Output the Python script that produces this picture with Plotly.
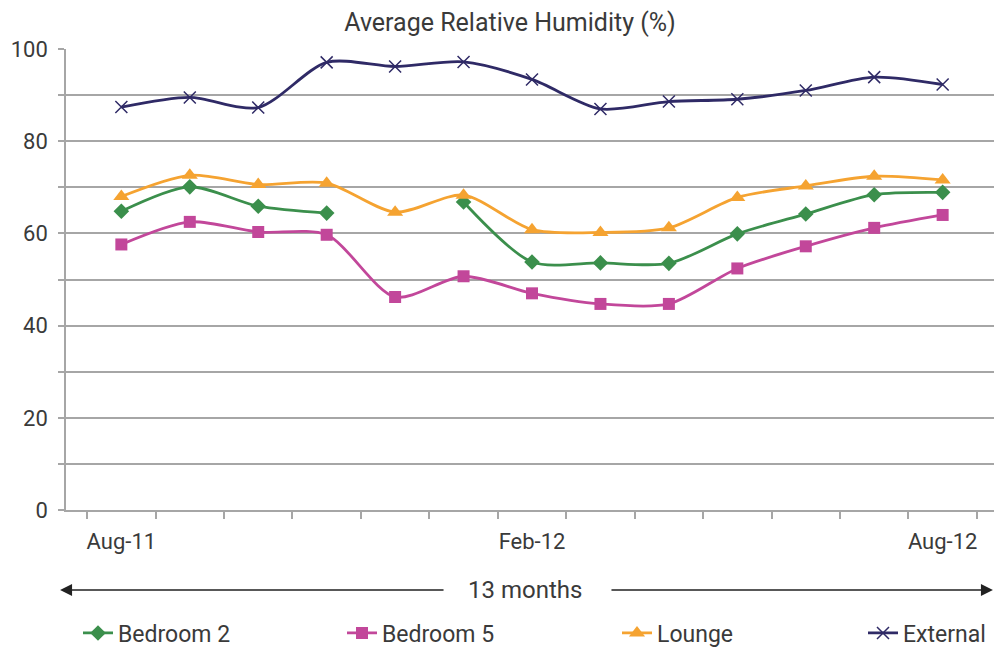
import plotly.graph_objects as go

months = ["Aug-11", "Sep-11", "Oct-11", "Nov-11", "Dec-11", "Jan-12", "Feb-12",
          "Mar-12", "Apr-12", "May-12", "Jun-12", "Jul-12", "Aug-12"]
shown_labels = ["Aug-11", "", "", "", "", "", "Feb-12", "", "", "", "", "", "Aug-12"]

bedroom2 = [64.8, 70.1, 65.9, 64.4, None, 66.8, 53.8, 53.6, 53.5, 59.9, 64.2, 68.4, 68.9]
bedroom5 = [57.6, 62.5, 60.3, 59.7, 46.2, 50.7, 47.0, 44.7, 44.7, 52.4, 57.2, 61.2, 64.0]
lounge = [68.0, 72.6, 70.6, 70.9, 64.6, 68.3, 60.8, 60.2, 61.2, 67.8, 70.3, 72.4, 71.6]
external = [87.4, 89.5, 87.3, 97.1, 96.2, 97.2, 93.4, 87.0, 88.6, 89.1, 91.0, 93.9, 92.3]

FONT = "Roboto"
TXT = "#3a3a3a"
GRID = "#a6a6a6"
# the page body adds an 8px margin, so the figure is 8px smaller and everything is placed 8px up/left
W, H = 994, 641

fig = go.Figure()

# one legend per series so the entries can sit where the original has them
legend_x = {"legend": 70, "legend2": 334, "legend3": 609, "legend4": 855}

def add_line(y, name, color, symbol, size, leg, mline=None):
    marker = dict(symbol=symbol, size=size, color=color)
    if mline:
        marker["line"] = dict(width=mline, color=color)
    fig.add_trace(go.Scatter(x=months, y=y, name=name, mode="lines+markers", legend=leg,
                             line=dict(color=color, width=2.8, shape="spline", smoothing=0.8),
                             marker=marker, connectgaps=False, showlegend=True))

add_line(bedroom2, "Bedroom 2", "#3b8f4c", "diamond", 12, "legend")
add_line(bedroom5, "Bedroom 5", "#c2479a", "square", 12, "legend2")
add_line(lounge, "Lounge", "#f5a331", "triangle-up", 14, "legend3")
add_line(external, "External", "#2f2a66", "x-thin", 12, "legend4", mline=1.5)

fig.update_xaxes(type="category", tickmode="array", tickvals=months, ticktext=shown_labels,
                 tickson="boundaries", ticks="outside", ticklen=7, tickcolor=GRID, tickwidth=1.5,
                 tickangle=0, automargin=False, ticklabelstandoff=11,
                 showline=True, linecolor=GRID, linewidth=1.5, showgrid=False,
                 tickfont=dict(family=FONT, size=22, color=TXT))
fig.update_yaxes(range=[0, 100], dtick=20, ticks="outside", ticklen=6, tickcolor=GRID, tickwidth=1.5,
                 showline=True, linecolor=GRID, linewidth=1.5, mirror=True, automargin=False,
                 ticklabelstandoff=6,
                 showgrid=True, gridcolor=GRID, gridwidth=1.5, zeroline=False,
                 minor=dict(dtick=10, showgrid=True, gridcolor=GRID, gridwidth=1.5,
                            ticks="outside", ticklen=6, tickcolor=GRID),
                 tickfont=dict(family=FONT, size=22, color=TXT))

# "13 months" double arrow under the axis
ARROW_Y = -0.1735
fig.add_annotation(x=-0.0064, y=ARROW_Y, xref="paper", yref="paper", ax=385, ay=0,
                   text="", showarrow=True, arrowhead=2, arrowsize=1.6, arrowwidth=1.5,
                   arrowcolor="#222")
fig.add_annotation(x=0.9946, y=ARROW_Y, xref="paper", yref="paper", ax=-383, ay=0,
                   text="", showarrow=True, arrowhead=2, arrowsize=1.6, arrowwidth=1.5,
                   arrowcolor="#222")
fig.add_annotation(x=0.493, y=ARROW_Y, xref="paper", yref="paper", text="13 months",
                   xanchor="center", yanchor="middle",
                   showarrow=False, font=dict(family=FONT, size=24, color=TXT))

legends = {}
for key, px in legend_x.items():
    legends[key] = dict(orientation="h", xref="container", yref="container",
                        x=px / W, y=1 - 625 / H, xanchor="left", yanchor="middle",
                        bgcolor="rgba(0,0,0,0)",
                        font=dict(family=FONT, size=23, color=TXT))

fig.update_layout(
    width=W, height=H, showlegend=True,
    margin=dict(l=58, r=4, t=41, b=139, autoexpand=False),
    paper_bgcolor="white", plot_bgcolor="white",
    title=dict(text="Average Relative Humidity (%)", x=502 / W, xanchor="center",
               y=1 - 14 / H, yanchor="middle", xref="container", yref="container",
               font=dict(family=FONT, size=25, color=TXT)),
    **legends,
)

fig.write_html("out.html")
